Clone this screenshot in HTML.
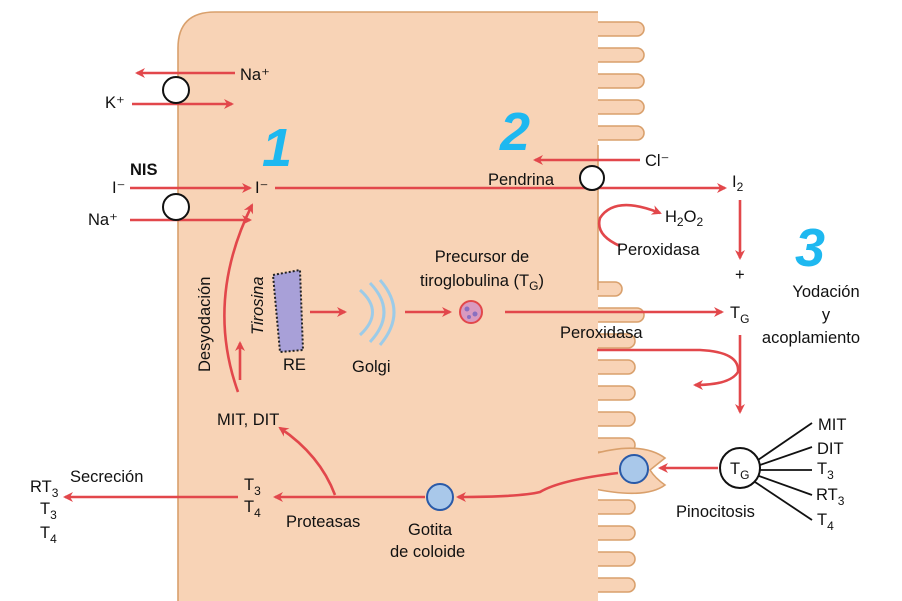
<!DOCTYPE html>
<html><head><meta charset="utf-8"><style>
body{margin:0;background:#fff}
svg{display:block;font-family:"Liberation Sans",Arial,sans-serif}
text{font-size:16.5px;fill:#111}
text.num{font-size:54px;font-weight:bold;font-style:italic;fill:#1eb8f0}
</style></head><body>
<svg width="902" height="601" viewBox="0 0 902 601">
<defs>
<marker id="a" markerWidth="10" markerHeight="10" refX="8" refY="5" orient="auto" markerUnits="userSpaceOnUse">
<path d="M0,0 L10,5 L0,10 L3,5 Z" fill="#e2474b"/></marker>
</defs>
<g fill="#f8d3b6" stroke="#d9a06c" stroke-width="1.6">
<rect x="580" y="22" width="64" height="14" rx="7"/>
<rect x="580" y="48" width="64" height="14" rx="7"/>
<rect x="580" y="74" width="64" height="14" rx="7"/>
<rect x="580" y="100" width="64" height="14" rx="7"/>
<rect x="580" y="126" width="64" height="14" rx="7"/>
<rect x="580" y="282" width="42" height="14" rx="7"/>
<rect x="580" y="308" width="64" height="14" rx="7"/>
<rect x="580" y="334" width="55" height="14" rx="7"/>
<rect x="580" y="360" width="55" height="14" rx="7"/>
<rect x="580" y="386" width="55" height="14" rx="7"/>
<rect x="580" y="412" width="55" height="14" rx="7"/>
<rect x="580" y="438" width="55" height="14" rx="7"/>
<path d="M590,455 Q640,440 665,458 Q655,466 650,470 Q655,478 665,485 Q645,500 590,488 Z"/>
<rect x="580" y="500" width="55" height="14" rx="7"/>
<rect x="580" y="526" width="55" height="14" rx="7"/>
<rect x="580" y="552" width="55" height="14" rx="7"/>
<rect x="580" y="578" width="55" height="14" rx="7"/>
</g>
<path d="M178,601 L178,48 Q178,12 215,12 L598,12 L598,601 Z" fill="#f8d3b6"/>
<path d="M178,601 L178,48 Q178,12 215,12 L598,12" fill="none" stroke="#d9a06c" stroke-width="1.6"/>
<path d="M598,145 L598,290" fill="none" stroke="#d9a06c" stroke-width="1.6"/>
<g stroke="#e2474b" stroke-width="2.6" fill="none" marker-end="url(#a)">
<line x1="235" y1="73" x2="137" y2="73"/>
<line x1="132" y1="104" x2="232" y2="104"/>
<line x1="130" y1="188" x2="250" y2="188"/>
<line x1="275" y1="188" x2="725" y2="188"/>
<line x1="130" y1="220" x2="250" y2="220"/>
<line x1="640" y1="160" x2="535" y2="160"/>
<line x1="740" y1="200" x2="740" y2="258"/>
<path d="M620,246 Q595,235 600,218 Q615,195 660,213"/>
<line x1="310" y1="312" x2="345" y2="312"/>
<line x1="405" y1="312" x2="450" y2="312"/>
<line x1="505" y1="312" x2="722" y2="312"/>
<line x1="740" y1="335" x2="740" y2="412"/>
<path d="M597,350 L700,350 Q740,352 738,372 Q730,385 695,385"/>
<line x1="718" y1="468" x2="660" y2="468"/>
<path d="M618,473 Q560,480 540,492 Q520,497 458,497"/>
<line x1="425" y1="497" x2="275" y2="497"/>
<path d="M335,495 Q320,455 280,428"/>
<line x1="238" y1="497" x2="65" y2="497"/>
<path d="M238,392 Q205,300 252,205"/>
<line x1="240" y1="380" x2="240" y2="343"/>
</g>
<g fill="#fff" stroke="#111" stroke-width="2">
<circle cx="176" cy="90" r="13"/><circle cx="176" cy="207" r="13"/>
<circle cx="592" cy="178" r="12"/><circle cx="740" cy="468" r="20"/>
</g>
<g fill="#a9c8ea" stroke="#2a5aa8" stroke-width="2">
<circle cx="634" cy="469" r="14"/><circle cx="440" cy="497" r="13"/>
</g>
<circle cx="471" cy="312" r="11" fill="#d99ac0" stroke="#e2474b" stroke-width="2"/>
<circle cx="467" cy="309" r="2.5" fill="#8a70c0"/><circle cx="475" cy="314" r="2.5" fill="#8a70c0"/><circle cx="469" cy="317" r="2" fill="#8a70c0"/>
<path d="M273,275 L300,270 L303,350 L280,352 Z" fill="#a8a0d8" stroke="#222" stroke-width="2" stroke-dasharray="2 2"/>
<g fill="none" stroke="#9ccbe8" stroke-width="3">
<path d="M360,290 Q385,312 360,335"/><path d="M370,283 Q398,312 370,342"/><path d="M380,280 Q408,312 380,345"/>
</g>
<g stroke="#111" stroke-width="1.8">
<line x1="758" y1="460" x2="812" y2="423"/><line x1="760" y1="465" x2="812" y2="447"/>
<line x1="760" y1="470" x2="812" y2="470"/><line x1="759" y1="476" x2="812" y2="495"/><line x1="755" y1="482" x2="812" y2="520"/>
</g>
<text x="240" y="80">Na⁺</text><text x="105" y="108">K⁺</text>
<text x="130" y="175" font-weight="bold">NIS</text>
<text x="112" y="193">I⁻</text><text x="255" y="193">I⁻</text><text x="88" y="225">Na⁺</text>
<text x="488" y="185">Pendrina</text><text x="645" y="166">Cl⁻</text>
<text x="732" y="187">I<tspan font-size="12" dy="4">2</tspan></text>
<text x="665" y="222">H<tspan font-size="12" dy="4">2</tspan><tspan dy="-4">O</tspan><tspan font-size="12" dy="4">2</tspan></text>
<text x="617" y="255">Peroxidasa</text>
<text x="735" y="280">+</text>
<text x="730" y="318">T<tspan font-size="12" dy="5">G</tspan></text>
<text x="826" y="297" text-anchor="middle">Yodación</text>
<text x="826" y="320" text-anchor="middle">y</text>
<text x="811" y="343" text-anchor="middle">acoplamiento</text>
<text x="482" y="262" text-anchor="middle">Precursor de</text>
<text x="482" y="286" text-anchor="middle">tiroglobulina (T<tspan font-size="12" dy="4">G</tspan><tspan dy="-4">)</tspan></text>
<text x="283" y="370">RE</text><text x="352" y="372">Golgi</text>
<text x="560" y="338">Peroxidasa</text>
<text transform="translate(263,335) rotate(-90)" font-style="italic">Tirosina</text>
<text transform="translate(210,372) rotate(-90)">Desyodación</text>
<text x="217" y="425">MIT, DIT</text>
<text x="730" y="474">T<tspan font-size="12" dy="5">G</tspan></text>
<text x="676" y="517">Pinocitosis</text>
<text x="818" y="430">MIT</text><text x="817" y="454">DIT</text>
<text x="817" y="474">T<tspan font-size="12" dy="5">3</tspan></text>
<text x="816" y="500">RT<tspan font-size="12" dy="5">3</tspan></text>
<text x="817" y="525">T<tspan font-size="12" dy="5">4</tspan></text>
<text x="408" y="535">Gotita</text><text x="390" y="557">de coloide</text>
<text x="286" y="527">Proteasas</text>
<text x="244" y="490">T<tspan font-size="12" dy="5">3</tspan></text>
<text x="244" y="512">T<tspan font-size="12" dy="5">4</tspan></text>
<text x="70" y="482">Secreción</text>
<text x="30" y="492">RT<tspan font-size="12" dy="5">3</tspan></text>
<text x="40" y="514">T<tspan font-size="12" dy="5">3</tspan></text>
<text x="40" y="538">T<tspan font-size="12" dy="5">4</tspan></text>
<text class="num" x="262" y="166">1</text>
<text class="num" x="500" y="150">2</text>
<text class="num" x="795" y="266">3</text>
</svg>
</body></html>
